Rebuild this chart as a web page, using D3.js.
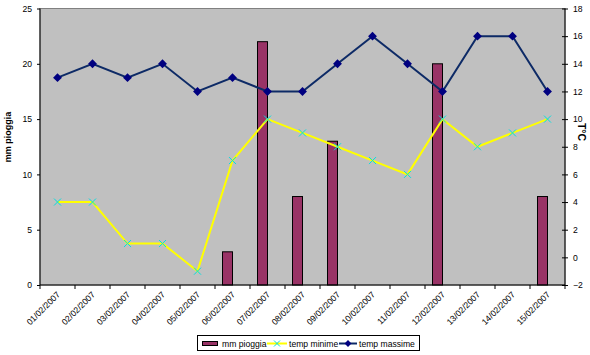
<!DOCTYPE html>
<html><head><meta charset="utf-8">
<script src="https://cdn.jsdelivr.net/npm/d3@7"></script>
<style>body{margin:0;background:#fff}svg{display:block}text{font-family:"Liberation Sans",Arial,sans-serif}</style>
</head><body><svg id="c" width="590" height="355"></svg>
<script>
const dates = ["01/02/2007","02/02/2007","03/02/2007","04/02/2007","05/02/2007","06/02/2007","07/02/2007","08/02/2007","09/02/2007","10/02/2007","11/02/2007","12/02/2007","13/02/2007","14/02/2007","15/02/2007"];
const rain = [0,0,0,0,0,3,22,8,13,0,0,20,0,0,8];
const tMin = [4,4,1,1,-1,7,10,9,8,7,6,10,8,9,10];
const tMax = [13,14,13,14,12,13,12,12,14,16,14,12,16,16,12];
const leftTicks = [0,5,10,15,20,25];
const rightTicks = [-2,0,2,4,6,8,10,12,14,16,18];

const svg = d3.select("#c");
const L = 40, R = 565, T = 8.5, B = 285;
const FS = 8.6;
const x = d3.scaleBand().domain(dates).range([L, R]);
const yL = d3.scaleLinear().domain([0, 25]).range([B, T]);
const yR = d3.scaleLinear().domain([-2, 18]).range([B, T]);
const cx = d => x(d) + x.bandwidth() / 2;

svg.append("rect").attr("x", L).attr("y", T).attr("width", R - L).attr("height", B - T)
  .attr("fill", "#c0c0c0").attr("stroke", "#808080").attr("stroke-width", 1);

// bars
svg.append("g").selectAll("rect").data(dates.map((d, i) => ({d, v: rain[i]})).filter(o => o.v > 0))
  .join("rect")
  .attr("x", o => cx(o.d) - 10).attr("width", 10)
  .attr("y", o => yL(o.v)).attr("height", o => B - yL(o.v))
  .attr("fill", "#993366").attr("stroke", "#000").attr("stroke-width", 1);

// temp minime
const line = d3.line().x((v, i) => cx(dates[i])).y(v => yR(v));
svg.append("path").datum(tMin).attr("d", line).attr("fill", "none").attr("stroke", "#ffff00").attr("stroke-width", 2);
svg.append("g").selectAll("path").data(tMin).join("path")
  .attr("d", (v, i) => { const px = cx(dates[i]), py = yR(v), s = 3.5; return `M${px-s},${py-s}L${px+s},${py+s}M${px-s},${py+s}L${px+s},${py-s}`; })
  .attr("stroke", "#00e0e0").attr("stroke-width", 1);

// temp massime
svg.append("path").datum(tMax).attr("d", line).attr("fill", "none").attr("stroke", "#0d2a66").attr("stroke-width", 2);
svg.append("g").selectAll("path").data(tMax).join("path")
  .attr("d", d3.symbol(d3.symbolDiamond2, 50))
  .attr("transform", (v, i) => `translate(${cx(dates[i])},${yR(v)})`)
  .attr("fill", "#000080");

// axes
const gx = svg.append("g").attr("transform", `translate(0,${B})`);
gx.append("line").attr("x1", L).attr("x2", R).attr("stroke", "#000");
gx.selectAll("line.t").data(d3.range(dates.length + 1)).join("line").attr("class", "t")
  .attr("x1", i => L + i * x.bandwidth()).attr("x2", i => L + i * x.bandwidth())
  .attr("y1", 0).attr("y2", 4).attr("stroke", "#000");
gx.selectAll("text").data(dates).join("text")
  .attr("transform", d => `translate(${cx(d) + 1},${8}) rotate(-45)`)
  .attr("text-anchor", "end").attr("dy", "0.35em").attr("font-size", FS).attr("fill", "#000").text(d => d);

const gl = svg.append("g").attr("transform", `translate(${L},0)`)
  .call(d3.axisLeft(yL).tickValues(leftTicks).tickSize(3).tickPadding(5));
gl.select(".domain").attr("d", `M0,${T}V${B}`);
gl.selectAll("text").attr("font-size", FS).attr("font-family", "Liberation Sans, Arial, sans-serif");

const gr = svg.append("g").attr("transform", `translate(${R},0)`)
  .call(d3.axisRight(yR).tickValues(rightTicks).tickSize(3).tickPadding(5));
gr.select(".domain").attr("d", `M0,${T}V${B}`);
gr.selectAll(".tick line").attr("x1", -3);
gr.selectAll("text").attr("font-size", FS).attr("font-family", "Liberation Sans, Arial, sans-serif");

svg.append("text").attr("transform", "translate(11,137) rotate(-90)").attr("text-anchor", "middle")
  .attr("font-size", 9).attr("font-weight", "bold").text("mm pioggia");
svg.append("text").attr("transform", "translate(578,132) rotate(90)").attr("text-anchor", "middle")
  .attr("font-size", 10.5).attr("font-weight", "bold").text("T°C");

// legend
const lg = svg.append("g");
lg.append("rect").attr("x", 197.5).attr("y", 335.5).attr("width", 222).attr("height", 15).attr("fill", "#fff").attr("stroke", "#000");
lg.append("rect").attr("x", 202.5).attr("y", 341.5).attr("width", 15).attr("height", 4).attr("fill", "#993366").attr("stroke", "#000");
lg.append("text").attr("x", 222).attr("y", 346.5).attr("font-size", FS).text("mm pioggia");
lg.append("line").attr("x1", 267).attr("x2", 287).attr("y1", 343.5).attr("y2", 343.5).attr("stroke", "#ffff00").attr("stroke-width", 2);
lg.append("path").attr("d", "M274,340.5L280,346.5M274,346.5L280,340.5").attr("stroke", "#00e0e0");
lg.append("text").attr("x", 289).attr("y", 346.5).attr("font-size", FS).text("temp minime");
lg.append("line").attr("x1", 339).attr("x2", 357).attr("y1", 343.5).attr("y2", 343.5).attr("stroke", "#0d2a66").attr("stroke-width", 2);
lg.append("path").attr("d", d3.symbol(d3.symbolDiamond2, 30)).attr("transform", "translate(348,343.5)").attr("fill", "#000080");
lg.append("text").attr("x", 359).attr("y", 346.5).attr("font-size", FS).text("temp massime");
</script></body></html>
